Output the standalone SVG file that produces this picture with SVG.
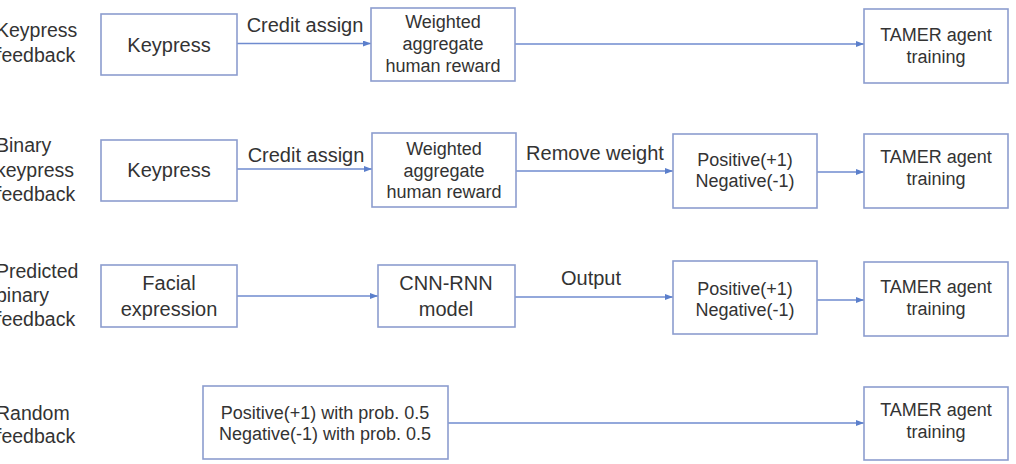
<svg xmlns="http://www.w3.org/2000/svg" width="1016" height="464" viewBox="0 0 1016 464">
<defs>
<marker id="ah" markerWidth="8" markerHeight="6" refX="8" refY="3" orient="auto" markerUnits="userSpaceOnUse">
<path d="M0,0 L8,3 L0,6 Z" fill="#5b7fcc"/>
</marker>
<style>
.box{fill:#fff;stroke:#8c9dcf;stroke-width:1.6}
.t{font-family:"Liberation Sans",Arial,sans-serif;fill:#333;}
.big{font-size:20px;text-anchor:middle}
.sm{font-size:18px;text-anchor:middle}
.side{font-size:19.5px;text-anchor:start}
.lab{font-size:20px;text-anchor:middle}
.c{stroke:#6f8bcf;stroke-width:1.5;fill:none;marker-end:url(#ah)}
</style>
</defs>
<rect width="1016" height="464" fill="#fff"/>

<g id="side-labels" class="t side">
<text x="-4" y="37">Keypress</text>
<text x="-4" y="62">feedback</text>
<text x="-4" y="152">Binary</text>
<text x="-4" y="177">keypress</text>
<text x="-4" y="201">feedback</text>
<text x="-4" y="278">Predicted</text>
<text x="-4" y="302">binary</text>
<text x="-4" y="326">feedback</text>
<text x="-4" y="420">Random</text>
<text x="-4" y="443">feedback</text>
</g>

<g id="connectors">
<line class="c" x1="237" y1="43.5" x2="371" y2="43.5"/>
<line class="c" x1="515" y1="44" x2="864" y2="44"/>
<line class="c" x1="237" y1="169" x2="372" y2="169"/>
<line class="c" x1="516" y1="171" x2="673" y2="171"/>
<line class="c" x1="817" y1="172" x2="864" y2="172"/>
<line class="c" x1="237" y1="296" x2="378" y2="296"/>
<line class="c" x1="515" y1="297" x2="673" y2="297"/>
<line class="c" x1="817" y1="300" x2="864" y2="300"/>
<line class="c" x1="448" y1="423" x2="864" y2="423"/>
<g class="t lab">
<text x="305" y="32">Credit assign</text>
<text x="306" y="162">Credit assign</text>
<text x="595" y="160">Remove weight</text>
<text x="591" y="285">Output</text>
</g>
</g>

<g id="r1-keypress">
<rect class="box" x="101" y="14" width="136" height="61"/>
<text class="t big" x="169" y="52">Keypress</text>
</g>
<g id="r1-weighted">
<rect class="box" x="371" y="8" width="144" height="73"/>
<text class="t sm" x="443" y="28">Weighted</text>
<text class="t sm" x="443" y="50">aggregate</text>
<text class="t sm" x="443" y="72">human reward</text>
</g>
<g id="r1-tamer">
<rect class="box" x="864" y="9" width="144" height="74"/>
<text class="t sm" x="936" y="41">TAMER agent</text>
<text class="t sm" x="936" y="63">training</text>
</g>

<g id="r2-keypress">
<rect class="box" x="101" y="140" width="136" height="61"/>
<text class="t big" x="169" y="177">Keypress</text>
</g>
<g id="r2-weighted">
<rect class="box" x="372" y="133" width="144" height="74"/>
<text class="t sm" x="444" y="155">Weighted</text>
<text class="t sm" x="444" y="177">aggregate</text>
<text class="t sm" x="444" y="198">human reward</text>
</g>
<g id="r2-binary">
<rect class="box" x="673" y="134" width="144" height="74"/>
<text class="t sm" x="745" y="166">Positive(+1)</text>
<text class="t sm" x="745" y="187">Negative(-1)</text>
</g>
<g id="r2-tamer">
<rect class="box" x="864" y="134" width="144" height="74"/>
<text class="t sm" x="936" y="163">TAMER agent</text>
<text class="t sm" x="936" y="185">training</text>
</g>

<g id="r3-facial">
<rect class="box" x="101" y="265" width="136" height="62"/>
<text class="t big" x="169" y="290">Facial</text>
<text class="t big" x="169" y="316">expression</text>
</g>
<g id="r3-cnn">
<rect class="box" x="378" y="265" width="137" height="62"/>
<text class="t big" x="446" y="290">CNN-RNN</text>
<text class="t big" x="446" y="316">model</text>
</g>
<g id="r3-binary">
<rect class="box" x="673" y="261" width="144" height="73"/>
<text class="t sm" x="745" y="295">Positive(+1)</text>
<text class="t sm" x="745" y="316">Negative(-1)</text>
</g>
<g id="r3-tamer">
<rect class="box" x="864" y="262" width="144" height="74"/>
<text class="t sm" x="936" y="293">TAMER agent</text>
<text class="t sm" x="936" y="315">training</text>
</g>

<g id="r4-random">
<rect class="box" x="203" y="386" width="245" height="73"/>
<text class="t sm" x="325" y="419">Positive(+1) with prob. 0.5</text>
<text class="t sm" x="325" y="440">Negative(-1) with prob. 0.5</text>
</g>
<g id="r4-tamer">
<rect class="box" x="864" y="387" width="144" height="73"/>
<text class="t sm" x="936" y="416">TAMER agent</text>
<text class="t sm" x="936" y="438">training</text>
</g>
</svg>
